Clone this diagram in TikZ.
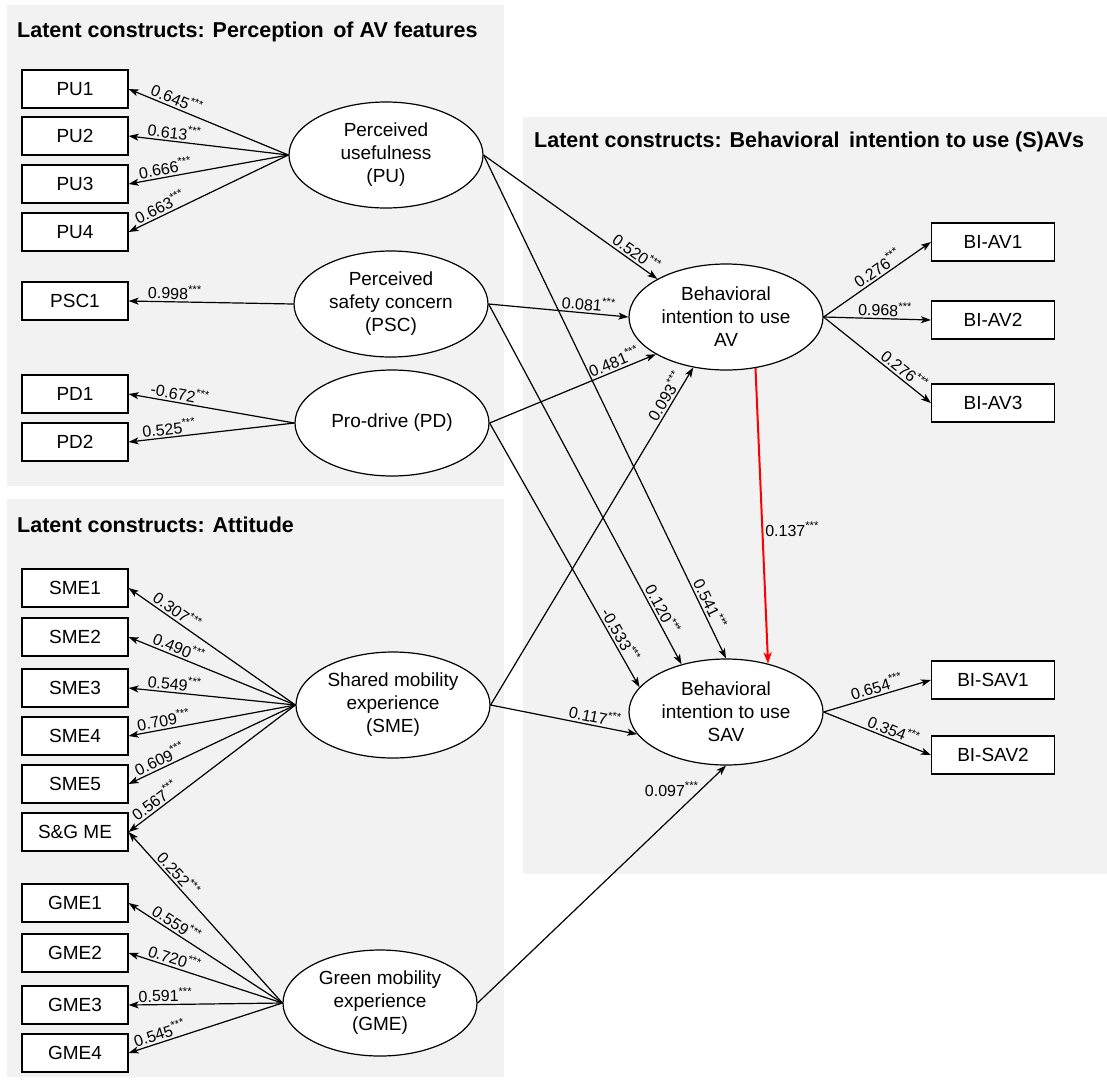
\documentclass[tikz,border=0pt]{standalone}
\usepackage{fontspec}
\setmainfont{Liberation Sans}
\usetikzlibrary{shapes.geometric,arrows.meta}
\definecolor{panelgray}{RGB}{242,242,242}
\newcommand{\pval}[1]{#1\textsuperscript{***}}
\begin{document}
\begin{tikzpicture}[x=1pt,y=-1pt,
  ttl/.style={font=\bfseries\fontsize{21.5}{24}\selectfont, anchor=base west, inner sep=0},
  ind/.style={draw, fill=white, line width=1.2pt, minimum width=106pt, minimum height=38pt, inner sep=0, font=\fontsize{19}{22}\selectfont},
  indr/.style={ind, minimum width=123pt},
  lat/.style={draw, fill=white, ellipse, line width=1.2pt, minimum width=194pt, minimum height=106pt, inner sep=0, align=center, font=\fontsize{19}{23}\selectfont},
  arr/.style={line width=1.2pt, -{Stealth[length=10pt,width=7pt,inset=2.5pt]}},
  lbl/.style={font=\fontsize{16}{17}\selectfont, sloped, above, inner sep=2pt},
  plbl/.style={font=\fontsize{16}{17}\selectfont, inner sep=2pt},
]
\useasboundingbox (0,0) rectangle (1107,1080);
% panels
\fill[panelgray] (7,5) rectangle (504,486);
\fill[panelgray] (7,499) rectangle (504,1077);
\fill[panelgray] (523,117) rectangle (1107,874);
% titles
\node[ttl] (t1) at (17,37) {Latent constructs: Perception\ \,of AV features};
\node[ttl] (t2) at (17,532) {Latent constructs: Attitude};
\node[ttl] (t3) at (534,147) {Latent constructs: Behavioral\ \,intention to use (S)AVs};
% indicators
\node[ind] (PU1) at (75,89) {PU1};
\node[ind] (PU2) at (75,136) {PU2};
\node[ind] (PU3) at (75,184) {PU3};
\node[ind] (PU4) at (75,232) {PU4};
\node[ind] (PSC1) at (75,301) {PSC1};
\node[ind] (PD1) at (75,394) {PD1};
\node[ind] (PD2) at (75,442) {PD2};
\node[ind] (SME1) at (75,588) {SME1};
\node[ind] (SME2) at (75,637) {SME2};
\node[ind] (SME3) at (75,688) {SME3};
\node[ind] (SME4) at (75,736) {SME4};
\node[ind] (SME5) at (75,784) {SME5};
\node[ind] (SGME) at (75,832) {S\&G ME};
\node[ind] (GME1) at (75,903) {GME1};
\node[ind] (GME2) at (75,953) {GME2};
\node[ind] (GME3) at (75,1005) {GME3};
\node[ind] (GME4) at (75,1053) {GME4};
\node[indr] (BIAV1) at (993,242) {BI-AV1};
\node[indr] (BIAV2) at (993,320) {BI-AV2};
\node[indr] (BIAV3) at (993,403) {BI-AV3};
\node[indr] (BISAV1) at (993,680) {BI-SAV1};
\node[indr] (BISAV2) at (993,755) {BI-SAV2};
% latent
\node[lat] (PU) at (386,155) {Perceived\\usefulness\\(PU)};
\node[lat] (PSC) at (391,304) {Perceived\\safety concern\\(PSC)};
\node[lat] (PD) at (392,423) {Pro-drive (PD)};
\node[lat] (SME) at (393,705) {Shared mobility\\experience\\(SME)};
\node[lat] (GME) at (380,1003) {Green mobility\\experience\\(GME)};
\node[lat] (BIAV) at (726,317) {Behavioral\\intention to use\\AV};
\node[lat] (BISAV) at (726,712) {Behavioral\\intention to use\\SAV};
% measurement
\draw[arr] (PU.west) -- node[lbl,pos=0.72] {\pval{0.645}} (PU1.east);
\draw[arr] (PU.west) -- node[lbl,pos=0.72] {\pval{0.613}} (PU2.east);
\draw[arr] (PU.west) -- node[lbl,pos=0.76] {\pval{0.666}} (PU3.east);
\draw[arr] (PU.west) -- node[lbl,pos=0.78] {\pval{0.663}} (PU4.east);
\draw[arr] (PSC.west) -- node[lbl,pos=0.72] {\pval{0.998}} (PSC1.east);
\draw[arr] (PD.west) -- node[lbl,pos=0.7] {\pval{-0.672}} (PD1.east);
\draw[arr] (PD.west) -- node[lbl,pos=0.75] {\pval{0.525}} (PD2.east);
\draw[arr] (SME.west) -- node[lbl,pos=0.74] {\pval{0.307}} (SME1.east);
\draw[arr] (SME.west) -- node[lbl,pos=0.72] {\pval{0.490}} (SME2.east);
\draw[arr] (SME.west) -- node[lbl,pos=0.73] {\pval{0.549}} (SME3.east);
\draw[arr] (SME.west) -- node[lbl,pos=0.78] {\pval{0.709}} (SME4.east);
\draw[arr] (SME.west) -- node[lbl,pos=0.79] {\pval{0.609}} (SME5.east);
\draw[arr] (SME.west) -- node[lbl,pos=0.81] {\pval{0.567}} (SGME.east);
\draw[arr] (GME.west) -- node[lbl,pos=0.72] {\pval{0.252}} (SGME.east);
\draw[arr] (GME.west) -- node[lbl,pos=0.72] {\pval{0.559}} (GME1.east);
\draw[arr] (GME.west) -- node[lbl,pos=0.72] {\pval{0.720}} (GME2.east);
\draw[arr] (GME.west) -- node[lbl,pos=0.76] {\pval{0.591}} (GME3.east);
\draw[arr] (GME.west) -- node[lbl,pos=0.78] {\pval{0.545}} (GME4.east);
% structural
\draw[arr] (PU.east) -- node[lbl,pos=0.85] {\pval{0.520}} (BIAV.151);
\draw[arr] (PU.east) -- node[lbl,pos=0.9] {\pval{0.541}} (BISAV.north);
\draw[arr] (PSC.east) -- node[lbl,pos=0.71] {\pval{0.081}} (BIAV.west);
\draw[arr] (PSC.east) -- node[lbl,pos=0.86] {\pval{0.120}} (BISAV.133);
\draw[arr] (PD.east) -- node[lbl,pos=0.77] {\pval{0.481}} (BIAV.208);
\draw[arr] (PD.east) -- node[lbl,pos=0.82] {\pval{-0.533}} (BISAV.164);
\draw[arr] (SME.east) -- node[lbl,pos=0.9] {\pval{0.093}} (BIAV.237);
\draw[arr] (SME.east) -- node[lbl,pos=0.7] {\pval{0.117}} (BISAV.194);
\draw[arr] (GME.east) -- node[plbl,pos=0.9,anchor=east] {\pval{0.097}} (BISAV.south);
\draw[arr,draw=red,line width=2pt,-{Stealth[length=11pt,width=8pt,inset=2.5pt,fill=red]}] (BIAV.300) -- node[plbl,pos=0.545,anchor=west] {\pval{0.137}} (BISAV.49);
\draw[arr] (BIAV.east) -- node[lbl,pos=0.55] {\pval{0.276}} (BIAV1.west);
\draw[arr] (BIAV.east) -- node[lbl,pos=0.57] {\pval{0.968}} (BIAV2.west);
\draw[arr] (BIAV.east) -- node[lbl,pos=0.7] {\pval{0.276}} (BIAV3.west);
\draw[arr] (BISAV.east) -- node[lbl,pos=0.52] {\pval{0.654}} (BISAV1.west);
\draw[arr] (BISAV.east) -- node[lbl,pos=0.62] {\pval{0.354}} (BISAV2.west);
\end{tikzpicture}
\end{document}
